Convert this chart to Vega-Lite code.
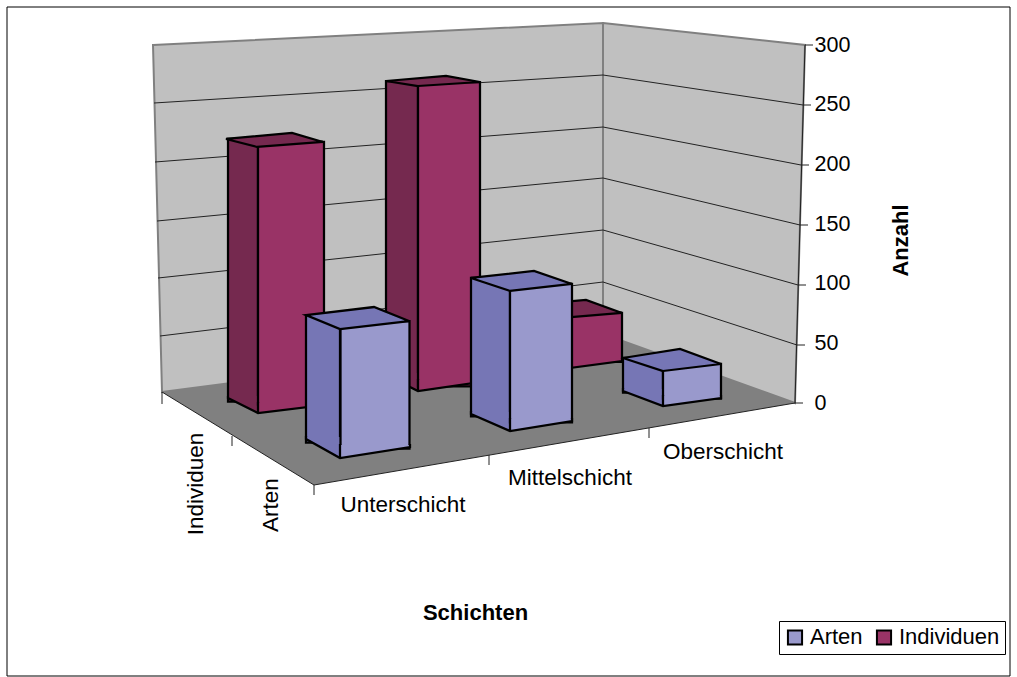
{"$schema":"https://vega.github.io/schema/vega-lite/v6.json","width":652,"height":358,"autosize":"none","padding":{"left":153,"top":45,"right":212,"bottom":274},"background":"white","view":{"stroke":null},
"config":{"font":"Liberation Sans","axis":{"labelFont":"Liberation Sans","titleFont":"Liberation Sans"},"legend":{"labelFont":"Liberation Sans"}},
"data":{"values":[
{"Schicht":"Unterschicht","Reihe":"Individuen","Anzahl":220},
{"Schicht":"Mittelschicht","Reihe":"Individuen","Anzahl":255},
{"Schicht":"Oberschicht","Reihe":"Individuen","Anzahl":41},
{"Schicht":"Unterschicht","Reihe":"Arten","Anzahl":107},
{"Schicht":"Mittelschicht","Reihe":"Arten","Anzahl":116},
{"Schicht":"Oberschicht","Reihe":"Arten","Anzahl":29}]},
"encoding":{
"x":{"field":"Schicht","type":"nominal","sort":null,"scale":{"type":"point","domain":["Unterschicht","Mittelschicht","Oberschicht"],"range":[137,445],"padding":0},"axis":{"title":"Schichten","labels":false,"ticks":false,"domain":false,"grid":false,"titleFontSize":22,"titleFontWeight":"bold","titleColor":"black","titleX":322,"titleY":209,"titleBaseline":"middle","titleAlign":"center"}},
"y":{"field":"Anzahl","type":"quantitative","scale":{"domain":[0,300],"nice":false},"axis":{"orient":"right","values":[0,50,100,150,200,250,300],"title":"Anzahl","domain":false,"ticks":false,"grid":false,"labelAlign":"left","labelFontSize":21.5,"labelColor":"black","labelPadding":9,"titleFontSize":22,"titleFontWeight":"bold","titleColor":"black","titleAngle":270,"titleX":95,"titleY":195,"titleBaseline":"middle","titleAlign":"center"}}},
"layer":[
{"transform":[{"filter":"datum.Schicht==='Mittelschicht'&&datum.Reihe==='Arten'"}],"mark":{"type":"point","filled":false,"opacity":1,"size":4,"stroke":"black","strokeWidth":1,"shape":"M-437,-396L566,-396L566,273L-437,273Z"},"encoding":{"y":{"datum":0}}},
{"transform":[{"filter":"datum.Schicht==='Mittelschicht'&&datum.Reihe==='Arten'"}],"mark":{"type":"point","filled":true,"opacity":1,"size":4,"fill":"#808080","stroke":null,"shape":"M-282,-11L159,-69L351,0L-130,82Z"},"encoding":{"y":{"datum":0}}},
{"transform":[{"filter":"datum.Schicht==='Mittelschicht'&&datum.Reihe==='Arten'"}],"mark":{"type":"point","filled":true,"opacity":1,"size":4,"fill":"#c0c0c0","stroke":"#808080","strokeWidth":2,"shape":"M-291,-358L159,-380L159,-69L-282,-11Z"},"encoding":{"y":{"datum":0}}},
{"transform":[{"filter":"datum.Schicht==='Mittelschicht'&&datum.Reihe==='Arten'"}],"mark":{"type":"point","filled":true,"opacity":1,"size":4,"fill":"#c0c0c0","stroke":"#808080","strokeWidth":2,"shape":"M159,-380L361,-358L351,0L159,-69Z"},"encoding":{"y":{"datum":0}}},
{"transform":[{"filter":"datum.Schicht==='Mittelschicht'&&datum.Reihe==='Arten'"}],"mark":{"type":"point","filled":false,"opacity":1,"size":4,"stroke":"#222222","strokeWidth":1,"shape":"M-290,-300L159,-328M-289,-241L159,-276M-287,-182L159,-225M-286,-125L159,-173M-284,-67L159,-121M159,-328L359,-298M159,-276L357,-238M159,-225L356,-178M159,-173L354,-118M159,-121L353,-58"},"encoding":{"y":{"datum":0}}},
{"transform":[{"filter":"datum.Schicht==='Mittelschicht'&&datum.Reihe==='Arten'"}],"mark":{"type":"point","filled":false,"opacity":1,"size":4,"stroke":"#222222","strokeWidth":1,"shape":"M361,-358L351,0M361,-358L369,-358M359,-298L367,-298M357,-238L365,-238M356,-178L364,-178M354,-118L362,-118M353,-58L361,-58M351,0L359,0M351,0L-130,82M-130,82L-282,-11M-130,82L-130,92M45,52L45,62M205,25L205,35M-212,33L-212,43M-282,-11L-282,1"},"encoding":{"y":{"datum":0}}},

{"transform":[{"filter":"datum.Schicht==='Unterschicht'&&datum.Reihe==='Individuen'"}],"mark":{"type":"bar","fill":"#75294f","stroke":"black","strokeWidth":2.25,"width":30,"xOffset":-47,"yOffset":-1.5,"y2Offset":-5}},
{"transform":[{"filter":"datum.Schicht==='Unterschicht'&&datum.Reihe==='Individuen'"}],"mark":{"type":"point","filled":true,"opacity":1,"size":4,"fill":"#75294f","stroke":null,"shape":"M-62,-7L-32,-7L-32,10L-62,-5Z"},"encoding":{"y":{"datum":0}}},
{"transform":[{"filter":"datum.Schicht==='Unterschicht'&&datum.Reihe==='Individuen'"}],"mark":{"type":"bar","stroke":"black","strokeWidth":2.25,"width":66,"xOffset":1,"yOffset":1.5,"y2Offset":2},"encoding":{"fill":{"field":"Reihe","type":"nominal","scale":{"domain":["Arten","Individuen"],"range":["#9999cc","#993366"]},"legend":{"orient":"none","legendX":626,"legendY":576,"direction":"horizontal","title":null,"symbolType":"square","symbolSize":200,"symbolStrokeColor":"black","symbolStrokeWidth":2,"labelFontSize":22,"labelColor":"black","strokeColor":"black","fillColor":"white","padding":5,"columnPadding":9}}}},
{"transform":[{"filter":"datum.Schicht==='Unterschicht'&&datum.Reihe==='Individuen'"}],"mark":{"type":"point","filled":true,"opacity":1,"size":4,"fill":"#993366","stroke":null,"shape":"M-32,0L34,0L34,2L-32,10Z"},"encoding":{"y":{"datum":0}}},
{"transform":[{"filter":"datum.Schicht==='Unterschicht'&&datum.Reihe==='Individuen'"}],"mark":{"type":"point","filled":false,"opacity":1,"size":4,"stroke":"black","strokeWidth":2.25,"shape":"M-62,-7L-62,-5L-32,10L34,2L34,-1M-32,-1L-32,10"},"encoding":{"y":{"datum":0}}},
{"transform":[{"filter":"datum.Schicht==='Unterschicht'&&datum.Reihe==='Individuen'"}],"mark":{"type":"point","filled":true,"opacity":1,"size":4,"fill":"#75294f","stroke":"black","strokeWidth":2.25,"shape":"M-33,6.5L33,1.5L2,-7.5L-64,-1.5Z"}},

{"transform":[{"filter":"datum.Schicht==='Mittelschicht'&&datum.Reihe==='Individuen'"}],"mark":{"type":"bar","fill":"#75294f","stroke":"black","strokeWidth":2.25,"width":32,"xOffset":-42,"yOffset":-17.7,"y2Offset":-28}},
{"transform":[{"filter":"datum.Schicht==='Mittelschicht'&&datum.Reihe==='Individuen'"}],"mark":{"type":"point","filled":true,"opacity":1,"size":4,"fill":"#75294f","stroke":null,"shape":"M-58,-30L-26,-30L-26,-12L-58,-28Z"},"encoding":{"y":{"datum":0}}},
{"transform":[{"filter":"datum.Schicht==='Mittelschicht'&&datum.Reihe==='Individuen'"}],"mark":{"type":"bar","fill":"#993366","stroke":"black","strokeWidth":2.25,"width":62,"xOffset":5,"yOffset":-16.7,"y2Offset":-21}},
{"transform":[{"filter":"datum.Schicht==='Mittelschicht'&&datum.Reihe==='Individuen'"}],"mark":{"type":"point","filled":true,"opacity":1,"size":4,"fill":"#993366","stroke":null,"shape":"M-26,-23L36,-23L36,-21L-26,-12Z"},"encoding":{"y":{"datum":0}}},
{"transform":[{"filter":"datum.Schicht==='Mittelschicht'&&datum.Reihe==='Individuen'"}],"mark":{"type":"point","filled":false,"opacity":1,"size":4,"stroke":"black","strokeWidth":2.25,"shape":"M-58,-30L-58,-28L-26,-12L36,-21L36,-24M-26,-24L-26,-12"},"encoding":{"y":{"datum":0}}},
{"transform":[{"filter":"datum.Schicht==='Mittelschicht'&&datum.Reihe==='Individuen'"}],"mark":{"type":"point","filled":true,"opacity":1,"size":4,"fill":"#75294f","stroke":"black","strokeWidth":2.25,"shape":"M-26,-12.7L36,-16.7L2,-22.7L-58,-17.7Z"}},

{"transform":[{"filter":"datum.Schicht==='Oberschicht'&&datum.Reihe==='Individuen'"}],"mark":{"type":"bar","fill":"#75294f","stroke":"black","strokeWidth":2.25,"width":30,"xOffset":-51,"yOffset":-49,"y2Offset":-53}},
{"transform":[{"filter":"datum.Schicht==='Oberschicht'&&datum.Reihe==='Individuen'"}],"mark":{"type":"bar","fill":"#993366","stroke":"black","strokeWidth":2.25,"width":60,"xOffset":-6,"yOffset":-41.1,"y2Offset":-42}},
{"transform":[{"filter":"datum.Schicht==='Oberschicht'&&datum.Reihe==='Individuen'"}],"mark":{"type":"point","filled":true,"opacity":1,"size":4,"fill":"#993366","stroke":null,"shape":"M-36,-44L24,-44L24,-42L-36,-34Z"},"encoding":{"y":{"datum":0}}},
{"transform":[{"filter":"datum.Schicht==='Oberschicht'&&datum.Reihe==='Individuen'"}],"mark":{"type":"point","filled":false,"opacity":1,"size":4,"stroke":"black","strokeWidth":2.25,"shape":"M-36,-45L-36,-34L24,-42L24,-45"},"encoding":{"y":{"datum":0}}},
{"transform":[{"filter":"datum.Schicht==='Oberschicht'&&datum.Reihe==='Individuen'"}],"mark":{"type":"point","filled":true,"opacity":1,"size":4,"fill":"#75294f","stroke":"black","strokeWidth":2.25,"shape":"M-36,-36.1L24,-41.1L-12,-54.1L-68,-49.1Z"}},

{"transform":[{"filter":"datum.Schicht==='Unterschicht'&&datum.Reihe==='Arten'"}],"mark":{"type":"bar","fill":"#7676b5","stroke":"black","strokeWidth":2.25,"width":34,"xOffset":33,"yOffset":39.7,"y2Offset":36}},
{"transform":[{"filter":"datum.Schicht==='Unterschicht'&&datum.Reihe==='Arten'"}],"mark":{"type":"point","filled":true,"opacity":1,"size":4,"fill":"#7676b5","stroke":null,"shape":"M16,34L50,34L50,55L16,36Z"},"encoding":{"y":{"datum":0}}},
{"transform":[{"filter":"datum.Schicht==='Unterschicht'&&datum.Reihe==='Arten'"}],"mark":{"type":"bar","fill":"#9999cc","stroke":"black","strokeWidth":2.25,"width":69,"xOffset":85,"yOffset":45.7,"y2Offset":44}},
{"transform":[{"filter":"datum.Schicht==='Unterschicht'&&datum.Reihe==='Arten'"}],"mark":{"type":"point","filled":true,"opacity":1,"size":4,"fill":"#9999cc","stroke":null,"shape":"M50,42L120,42L120,44L50,55Z"},"encoding":{"y":{"datum":0}}},
{"transform":[{"filter":"datum.Schicht==='Unterschicht'&&datum.Reihe==='Arten'"}],"mark":{"type":"point","filled":false,"opacity":1,"size":4,"stroke":"black","strokeWidth":2.25,"shape":"M16,33L16,36L50,55L120,44L120,41M50,41L50,55"},"encoding":{"y":{"datum":0}}},
{"transform":[{"filter":"datum.Schicht==='Unterschicht'&&datum.Reihe==='Arten'"}],"mark":{"type":"point","filled":true,"opacity":1,"size":4,"fill":"#7676b5","stroke":"black","strokeWidth":2.25,"shape":"M50,53.7L119,45.7L84,31.7L16,39.7Z"}},

{"transform":[{"filter":"datum.Schicht==='Mittelschicht'&&datum.Reihe==='Arten'"}],"mark":{"type":"bar","fill":"#7676b5","stroke":"black","strokeWidth":2.25,"width":39,"xOffset":46.5,"yOffset":13.4,"y2Offset":11}},
{"transform":[{"filter":"datum.Schicht==='Mittelschicht'&&datum.Reihe==='Arten'"}],"mark":{"type":"point","filled":true,"opacity":1,"size":4,"fill":"#7676b5","stroke":null,"shape":"M27,9L66,9L66,28L27,11Z"},"encoding":{"y":{"datum":0}}},
{"transform":[{"filter":"datum.Schicht==='Mittelschicht'&&datum.Reihe==='Arten'"}],"mark":{"type":"bar","fill":"#9999cc","stroke":"black","strokeWidth":2.25,"width":62,"xOffset":97,"yOffset":19.4,"y2Offset":18}},
{"transform":[{"filter":"datum.Schicht==='Mittelschicht'&&datum.Reihe==='Arten'"}],"mark":{"type":"point","filled":true,"opacity":1,"size":4,"fill":"#9999cc","stroke":null,"shape":"M66,16L128,16L128,18L66,28Z"},"encoding":{"y":{"datum":0}}},
{"transform":[{"filter":"datum.Schicht==='Mittelschicht'&&datum.Reihe==='Arten'"}],"mark":{"type":"point","filled":false,"opacity":1,"size":4,"stroke":"black","strokeWidth":2.25,"shape":"M27,8L27,11L66,28L128,18L128,15M66,15L66,28"},"encoding":{"y":{"datum":0}}},
{"transform":[{"filter":"datum.Schicht==='Mittelschicht'&&datum.Reihe==='Arten'"}],"mark":{"type":"point","filled":true,"opacity":1,"size":4,"fill":"#7676b5","stroke":"black","strokeWidth":2.25,"shape":"M66,26.4L128,19.4L90,6.4L27,13.4Z"}},

{"transform":[{"filter":"datum.Schicht==='Oberschicht'&&datum.Reihe==='Arten'"}],"mark":{"type":"bar","fill":"#7676b5","stroke":"black","strokeWidth":2.25,"width":40,"xOffset":45,"yOffset":-10.4,"y2Offset":-12}},
{"transform":[{"filter":"datum.Schicht==='Oberschicht'&&datum.Reihe==='Arten'"}],"mark":{"type":"point","filled":true,"opacity":1,"size":4,"fill":"#7676b5","stroke":null,"shape":"M25,-14L65,-14L65,3L25,-12Z"},"encoding":{"y":{"datum":0}}},
{"transform":[{"filter":"datum.Schicht==='Oberschicht'&&datum.Reihe==='Arten'"}],"mark":{"type":"bar","fill":"#9999cc","stroke":"black","strokeWidth":2.25,"width":58,"xOffset":94,"yOffset":-4.4,"y2Offset":-5}},
{"transform":[{"filter":"datum.Schicht==='Oberschicht'&&datum.Reihe==='Arten'"}],"mark":{"type":"point","filled":true,"opacity":1,"size":4,"fill":"#9999cc","stroke":null,"shape":"M65,-7L123,-7L123,-5L65,3Z"},"encoding":{"y":{"datum":0}}},
{"transform":[{"filter":"datum.Schicht==='Oberschicht'&&datum.Reihe==='Arten'"}],"mark":{"type":"point","filled":false,"opacity":1,"size":4,"stroke":"black","strokeWidth":2.25,"shape":"M25,-15L25,-12L65,3L123,-5L123,-8M65,-8L65,3"},"encoding":{"y":{"datum":0}}},
{"transform":[{"filter":"datum.Schicht==='Oberschicht'&&datum.Reihe==='Arten'"}],"mark":{"type":"point","filled":true,"opacity":1,"size":4,"fill":"#7676b5","stroke":"black","strokeWidth":2.25,"shape":"M65,2.6L123,-4.4L82,-19.4L25,-10.4Z"}},

{"transform":[{"filter":"datum.Schicht==='Unterschicht'&&datum.Reihe==='Arten'"}],"mark":{"type":"text","fontSize":22.5,"color":"black","xOffset":113,"yOffset":102},"encoding":{"y":{"datum":0},"text":{"field":"Schicht"}}},
{"transform":[{"filter":"datum.Schicht==='Mittelschicht'&&datum.Reihe==='Arten'"}],"mark":{"type":"text","fontSize":22.5,"color":"black","xOffset":126,"yOffset":75},"encoding":{"y":{"datum":0},"text":{"field":"Schicht"}}},
{"transform":[{"filter":"datum.Schicht==='Oberschicht'&&datum.Reihe==='Arten'"}],"mark":{"type":"text","fontSize":22.5,"color":"black","xOffset":125,"yOffset":49},"encoding":{"y":{"datum":0},"text":{"field":"Schicht"}}},
{"transform":[{"filter":"datum.Schicht==='Unterschicht'&&datum.Reihe==='Individuen'"}],"mark":{"type":"text","fontSize":22.5,"color":"black","angle":270,"xOffset":-94,"yOffset":81},"encoding":{"y":{"datum":0},"text":{"field":"Reihe"}}},
{"transform":[{"filter":"datum.Schicht==='Unterschicht'&&datum.Reihe==='Arten'"}],"mark":{"type":"text","fontSize":22.5,"color":"black","angle":270,"xOffset":-19,"yOffset":102},"encoding":{"y":{"datum":0},"text":{"field":"Reihe"}}}
]}
